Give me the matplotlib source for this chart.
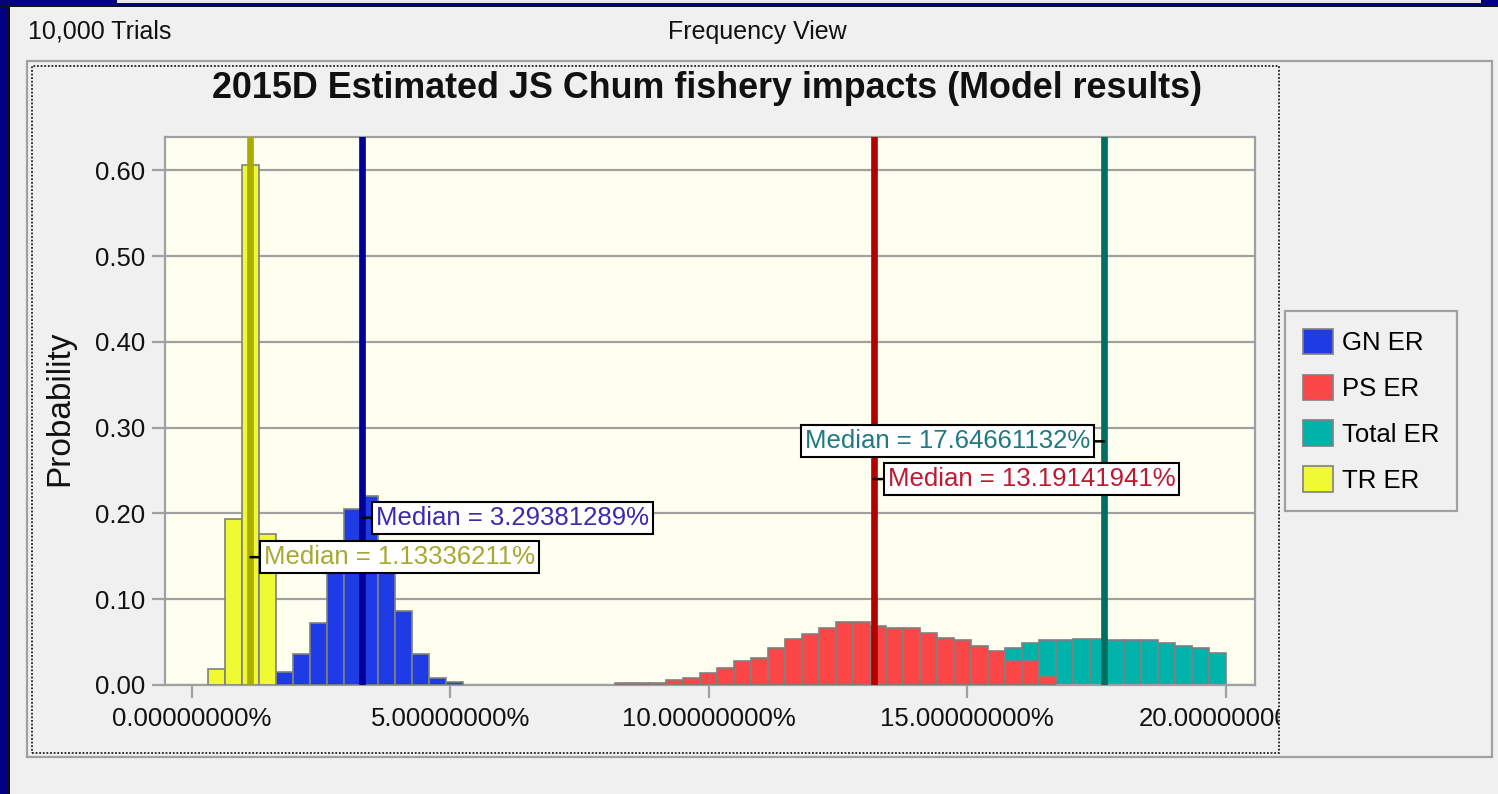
import numpy as np
import matplotlib
matplotlib.use("Agg")
import matplotlib.pyplot as plt
from matplotlib.patches import Rectangle
from matplotlib.transforms import Bbox, TransformedBbox

plt.rcParams['font.family'] = ['Liberation Sans', 'DejaVu Sans']

# histogram layout (display range split into 60 bins)
bin_lo, bin_hi, n_bins = 0.32, 20.0, 60

# probabilities per bin, each series starting at a given bin index
tr_start = 0
tr_er = [0.019, 0.193, 0.606, 0.176]
gn_start = 4
gn_er = [0.015, 0.036, 0.072, 0.150, 0.205, 0.220, 0.165, 0.086, 0.036, 0.008, 0.003]
ps_start = 24
ps_er = [0.0024, 0.0024, 0.0024, 0.0056, 0.0084, 0.014, 0.020, 0.028, 0.031, 0.043,
         0.054, 0.060, 0.066, 0.074, 0.074, 0.069, 0.066, 0.066, 0.061, 0.055,
         0.052, 0.046, 0.040, 0.028, 0.028, 0.010]
total_start = 36
total_er = [0.002, 0.003, 0.005, 0.007, 0.010, 0.014, 0.019, 0.024, 0.029, 0.033,
            0.037, 0.043, 0.049, 0.052, 0.052, 0.054, 0.054, 0.052, 0.052, 0.052,
            0.049, 0.046, 0.043, 0.037]

series_names = ["GN ER", "PS ER", "Total ER", "TR ER"]
medians = {"TR ER": 1.13336211, "GN ER": 3.29381289, "PS ER": 13.19141941, "Total ER": 17.64661132}
label_y = {"TR ER": 0.149, "GN ER": 0.195, "PS ER": 0.240, "Total ER": 0.284}
label_side = {"TR ER": 1, "GN ER": 1, "PS ER": 1, "Total ER": -1}

bar_colors = {"GN ER": "#1f3be6", "PS ER": "#fa4646", "Total ER": "#00b3aa", "TR ER": "#f0fa32"}
line_colors = {"GN ER": "#000099", "PS ER": "#b30000", "Total ER": "#006e62", "TR ER": "#a9ad00"}
text_colors = {"GN ER": "#3a2ab0", "PS ER": "#c01830", "Total ER": "#207880", "TR ER": "#a8a830"}

xticks = [0, 5, 10, 15, 20]
yticks = [0.0, 0.1, 0.2, 0.3, 0.4, 0.5, 0.6]

W, H = 1498, 794
fig = plt.figure(figsize=(W / 100, H / 100), dpi=100, facecolor="#f0f0f0")

def fx(px):
    return px / W

def fy(py):
    return 1 - py / H

# window chrome
fig.patches.append(Rectangle((0, 0), fx(8), 1, transform=fig.transFigure, fc="#000080", ec="none", zorder=0))
fig.patches.append(Rectangle((fx(8), 0), fx(1.5), fy(6), transform=fig.transFigure, fc="#101010", ec="none", zorder=0))
fig.patches.append(Rectangle((0, fy(7)), 1, 7 / H, transform=fig.transFigure, fc="#000080", ec="none", zorder=0))
fig.patches.append(Rectangle((0, fy(7)), 1, 1.2 / H, transform=fig.transFigure, fc="#101010", ec="none", zorder=0))
fig.patches.append(Rectangle((fx(117), fy(3)), fx(1481 - 117), 3 / H, transform=fig.transFigure, fc="#e8e8e8", ec="none", zorder=0))
# chart panel and focus rectangle
fig.patches.append(Rectangle((fx(27), fy(757)), fx(1492 - 27), (757 - 61) / H, transform=fig.transFigure,
                             fc="none", ec="#a0a0a0", lw=1.6, zorder=0))
fig.patches.append(Rectangle((fx(32), fy(753)), fx(1279 - 32), (753 - 66) / H, transform=fig.transFigure,
                             fc="none", ec="#202020", lw=1.3, ls=(0, (1, 1)), zorder=5))

fig.text(fx(28), fy(32), "10,000 Trials", fontsize=18, ha="left", va="center", color="#111111")
fig.text(fx(757), fy(32), "Frequency View", fontsize=18, ha="center", va="center", color="#111111")
fig.text(fx(707), fy(89), "2015D Estimated JS Chum fishery impacts (Model results)",
         fontsize=25.8, fontweight="bold", ha="center", va="center", color="#111111")
fig.text(fx(60), fy(408), "Probability", fontsize=24, rotation=90, ha="center", va="center", color="#111111")

ax = fig.add_axes([fx(165), fy(685), fx(1255 - 165), (685 - 137) / H])
ax.set_facecolor("#fffff0")
ax.set_xlim(-0.52, 20.57)
ax.set_ylim(0, 0.6387)
ax.set_axisbelow(True)
ax.yaxis.grid(True, color="#a0a0a0", lw=1.6)
for s in ax.spines.values():
    s.set_color("#a0a0a0")
    s.set_linewidth(1.6)

edges = np.linspace(bin_lo, bin_hi, n_bins + 1)
width = edges[1] - edges[0]

def draw(name, start, vals, z):
    lefts = edges[start:start + len(vals)]
    return ax.bar(lefts, vals, width=width, align="edge", color=bar_colors[name],
                  edgecolor="#808080", linewidth=1.2, label=name, zorder=z)

handles = {
    "Total ER": draw("Total ER", total_start, total_er, 2),
    "PS ER": draw("PS ER", ps_start, ps_er, 3),
    "GN ER": draw("GN ER", gn_start, gn_er, 4),
    "TR ER": draw("TR ER", tr_start, tr_er, 4),
}

for name in ["TR ER", "GN ER", "PS ER", "Total ER"]:
    m = medians[name]
    ax.axvline(m, color=line_colors[name], lw=4.8, zorder=6)
    side = label_side[name]
    ax.annotate(f"Median = {m:.8f}%", xy=(m, label_y[name]), xytext=(side * 10, 0),
                textcoords="offset points", ha="left" if side > 0 else "right", va="center",
                fontsize=18.5, color=text_colors[name], zorder=8,
                bbox=dict(boxstyle="square,pad=0.15", fc="white", ec="black", lw=1.5),
                arrowprops=dict(arrowstyle="-", color="black", lw=1.8, shrinkA=0, shrinkB=0))

ax.set_xticks(xticks, [f"{v:.8f}%" for v in xticks])
ax.set_yticks(yticks, [f"{v:.2f}" for v in yticks])
ax.tick_params(axis="both", colors="#a0a0a0", labelcolor="#111111", labelsize=18.5, width=1.6)
ax.tick_params(axis="x", length=9, pad=7)
ax.tick_params(axis="y", length=9.5, pad=5)

clip = TransformedBbox(Bbox([[0, 0], [fx(1279), 1]]), fig.transFigure)
for t in ax.get_xticklabels():
    t.set_clip_box(clip)
    t.set_clip_on(True)

leg = fig.legend([handles[n] for n in series_names], series_names, loc="upper left",
                 bbox_to_anchor=(fx(1285), fy(311)), fontsize=18.5, fancybox=False,
                 edgecolor="#a0a0a0", facecolor="#f0f0f0", framealpha=1,
                 handlelength=1.15, handleheight=1.15, handletextpad=0.35,
                 labelspacing=0.75, borderpad=0.7, borderaxespad=0)
leg.get_frame().set_linewidth(1.6)

fig.savefig("out.png", dpi=100, facecolor=fig.get_facecolor())
